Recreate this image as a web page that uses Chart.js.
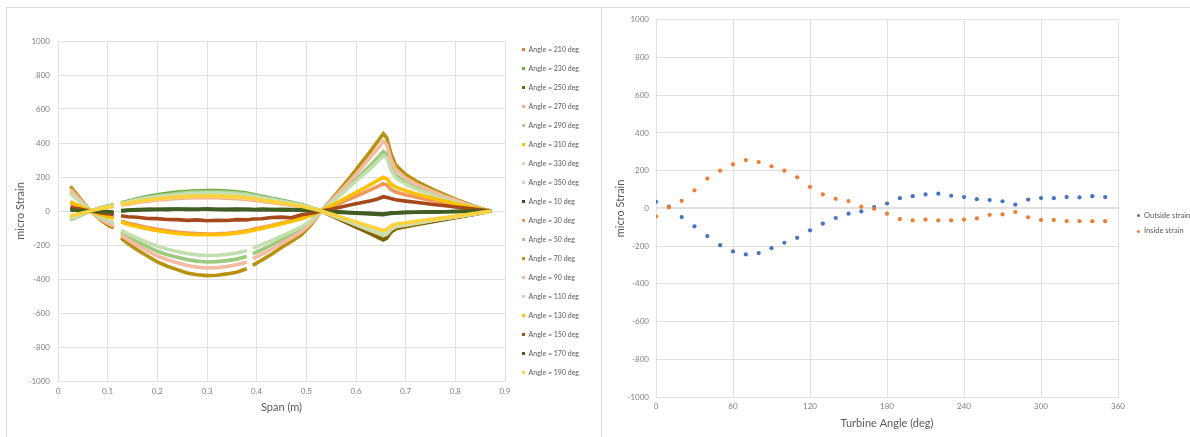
<!DOCTYPE html>
<html>
<head>
<meta charset="utf-8">
<title>Blade strain</title>
<style>
  html, body { margin: 0; padding: 0; background: #fff; width: 1190px; height: 437px; overflow: hidden; font-family: Lato, "Open Sans", sans-serif; }
  .panel { position: absolute; border: 1px solid #d9d9d9; background: #fff; box-sizing: border-box; }
  canvas { position: absolute; }
  .legend-item { position: absolute; white-space: nowrap; color: #595959; font-family: Lato, sans-serif; }
  .legend-mark { position: absolute; width: 3px; height: 3px; }
</style>
<script src="https://cdn.jsdelivr.net/npm/chart.js@4.4.0/dist/chart.umd.min.js"></script>
</head>
<body>
<div class="panel" style="left:6px; top:7px; width:600px; height:440px; border-right:none;"></div>
<div class="panel" style="left:601px; top:7px; width:600px; height:440px;"></div>
<canvas id="spanChart" width="590" height="428" style="left:7px; top:8px;"></canvas>
<canvas id="angleChart" width="587" height="428" style="left:603px; top:8px;"></canvas>
<div id="spanLegend"></div>
<div id="angleLegend"></div>
<script>
// ---- Strain along the blade span, one series per rotor angle ----
const SPAN = [0.025, 0.035, 0.045, 0.055, 0.065, 0.075, 0.085, 0.095, 0.105, 0.112, 0.118,
  0.127, 0.14, 0.16, 0.18, 0.20, 0.22, 0.24, 0.26, 0.28, 0.30, 0.32, 0.34, 0.36, 0.38, 0.386,
  0.392, 0.41, 0.43, 0.45, 0.47, 0.49, 0.51, 0.53, 0.55, 0.57, 0.59, 0.61, 0.63, 0.645, 0.655, 0.662,
  0.67, 0.68, 0.70, 0.72, 0.74, 0.76, 0.78, 0.80, 0.82, 0.84, 0.86, 0.872];

const ROTOR_ANGLES = [210, 230, 250, 270, 290, 310, 330, 350, 10, 30, 50, 70, 90, 110, 130, 150, 170, 190];

const STRAIN_210 = [-40, -30, -20, -10, 0, 7, 14, 21, 27, 32, null,
  40, 47, 58, 68, 76, 83, 88, 92, 95, 95, 94, 92, 88, 82, 79,
  77, 68, 60, 50, 40, 30, 15, 0, -24, -48, -72, -96, -120, -138, -150, -142,
  -112, -95, -84, -74, -64, -54, -45, -36, -27, -17, -7, 0];
const STRAIN_230 = [-50, -37, -25, -12, 0, 9, 18, 26, 33, 38, null,
  48, 57, 72, 85, 95, 104, 111, 116, 119, 121, 120, 118, 113, 106, 102,
  99, 86, 75, 63, 51, 38, 20, 0, -26, -52, -77, -102, -127, -147, -160, -150,
  -118, -100, -89, -79, -68, -58, -48, -38, -28, -18, -7, 0];
const STRAIN_250 = [-45, -34, -22, -11, 0, 8, 16, 23, 29, 34, null,
  42, 50, 62, 72, 80, 87, 93, 97, 100, 100, 99, 97, 94, 88, 85,
  82, 72, 63, 53, 43, 32, 16, 0, -27, -54, -81, -108, -135, -157, -170, -160,
  -125, -104, -92, -81, -70, -60, -50, -40, -30, -19, -8, 0];
const STRAIN_270 = [-35, -26, -17, -9, 0, 6, 12, 18, 23, 27, null,
  35, 40, 50, 58, 65, 70, 74, 77, 78, 79, 78, 76, 73, 68, 66,
  64, 57, 50, 42, 34, 25, 13, 0, -23, -46, -70, -93, -116, -133, -145, -137,
  -110, -93, -83, -73, -63, -53, -44, -35, -26, -16, -6, 0];
const STRAIN_290 = [-48, -36, -24, -12, 0, 8, 17, 25, 31, 36, null,
  45, 54, 67, 79, 88, 96, 103, 108, 111, 112, 112, 110, 106, 100, 96,
  93, 81, 71, 59, 48, 36, 18, 0, -22, -45, -67, -90, -112, -129, -140, -132,
  -106, -90, -80, -71, -61, -52, -43, -34, -25, -16, -6, 0];
const STRAIN_310 = [-35, -26, -17, -9, 0, 7, 14, 20, 26, 31, null,
  42, 49, 60, 70, 78, 84, 89, 93, 95, 95, 95, 93, 89, 84, 81,
  78, 69, 61, 51, 41, 30, 15, 0, -20, -40, -60, -80, -100, -115, -125, -118,
  -96, -83, -75, -67, -58, -50, -41, -33, -24, -15, -6, 0];
const STRAIN_330 = [-30, -22, -15, -7, 0, 6, 12, 18, 23, 27, null,
  37, 44, 54, 63, 70, 76, 80, 83, 85, 86, 85, 83, 80, 75, 72,
  70, 62, 54, 46, 37, 27, 14, 0, -22, -43, -65, -86, -108, -124, -135, -128,
  -103, -88, -79, -70, -60, -51, -42, -34, -25, -16, -6, 0];
const STRAIN_350 = [-45, -34, -22, -11, 0, 8, 16, 23, 29, 34, null,
  44, 52, 64, 75, 83, 90, 96, 101, 104, 105, 105, 103, 99, 93, 90,
  87, 77, 67, 56, 45, 34, 17, 0, -22, -45, -67, -90, -112, -129, -140, -132,
  -106, -90, -80, -71, -61, -52, -43, -34, -25, -16, -6, 0];
const STRAIN_10 = [15, 11, 8, 4, 0, -3, -6, -9, -10, -12, null,
  0, 3, 6, 8, 10, 8, 12, 9, 10, 11, 9, 10, 8, 10, 9,
  8, 7, 9, 6, 6, 5, 3, 0, -3, -6, -9, -12, -14, -16, -18, -15,
  -12, -10, -8, -7, -6, -5, -4, -3, -2, -1, 0, 0];
const STRAIN_30 = [45, 34, 22, 11, 0, -9, -18, -26, -33, -38, null,
  -58, -70, -84, -97, -108, -117, -124, -129, -133, -135, -134, -131, -125, -117, -113,
  -108, -97, -85, -71, -57, -43, -24, 0, 25, 50, 75, 100, 126, 147, 160, 153,
  128, 112, 96, 82, 69, 57, 45, 34, 24, 14, 5, 0];
const STRAIN_50 = [110, 82, 55, 27, 2, -19, -38, -55, -68, -76, null,
  -125, -150, -182, -210, -237, -257, -272, -286, -295, -300, -298, -292, -283, -268, null,
  -252, -228, -200, -170, -140, -108, -62, 0, 50, 105, 160, 215, 272, 318, 350, 335,
  262, 210, 168, 138, 115, 93, 73, 54, 36, 20, 6, 0];
const STRAIN_70 = [145, 108, 72, 36, 2, -25, -50, -72, -90, -100, null,
  -160, -190, -230, -265, -300, -325, -345, -365, -375, -380, -378, -370, -360, -340, null,
  -320, -290, -255, -215, -180, -140, -80, 0, 65, 135, 205, 280, 355, 415, 455, 430,
  340, 270, 215, 178, 148, 120, 95, 70, 47, 26, 8, 0];
const STRAIN_90 = [128, 95, 63, 32, 2, -22, -44, -63, -79, -88, null,
  -140, -168, -203, -235, -265, -287, -305, -320, -330, -335, -333, -326, -316, -300, null,
  -282, -255, -225, -190, -158, -122, -70, 0, 58, 120, 183, 250, 320, 372, 410, 390,
  305, 243, 193, 160, 133, 108, 85, 63, 42, 23, 7, 0];
const STRAIN_110 = [100, 75, 50, 25, 2, -17, -34, -49, -61, -68, null,
  -112, -133, -160, -185, -207, -225, -238, -250, -258, -262, -260, -255, -247, -234, null,
  -220, -198, -175, -148, -122, -94, -54, 0, 47, 98, 150, 200, 252, 295, 325, 312,
  245, 196, 158, 130, 108, 87, 68, 50, 34, 19, 6, 0];
const STRAIN_130 = [55, 41, 27, 14, 1, -11, -21, -30, -37, -42, null,
  -65, -78, -92, -105, -116, -125, -132, -137, -140, -140, -139, -136, -130, -122, -118,
  -114, -103, -90, -76, -60, -45, -26, 0, 30, 62, 93, 125, 157, 182, 198, 190,
  160, 140, 120, 102, 86, 71, 57, 43, 30, 17, 6, 0];
const STRAIN_150 = [22, 16, 11, 5, 0, -5, -10, -14, -18, -20, null,
  -28, -34, -37, -44, -45, -50, -51, -55, -52, -57, -54, -56, -51, -52, -50,
  -47, -46, -38, -36, -40, -22, -13, 0, 10, 24, 37, 48, 60, 72, 84, 80,
  73, 66, 58, 51, 44, 37, 31, 24, 17, 10, 4, 0];
const STRAIN_170 = [5, 4, 2, 1, 0, 0, -2, -3, -5, -6, null,
  2, 5, 8, 10, 9, 12, 10, 11, 9, 12, 10, 8, 11, 9, 10,
  9, 11, 8, 10, 9, 7, 4, 0, -4, -8, -12, -15, -18, -20, -22, -18,
  -14, -11, -9, -7, -6, -5, -4, -3, -2, -1, 0, 0];
const STRAIN_190 = [-30, -22, -15, -7, 0, 7, 13, 19, 25, 30, null,
  40, 46, 56, 65, 72, 78, 83, 86, 88, 88, 88, 86, 83, 78, 75,
  73, 64, 56, 47, 38, 28, 14, 0, -18, -37, -55, -74, -92, -106, -115, -108,
  -88, -76, -69, -61, -53, -46, -38, -30, -22, -14, -5, 0];

// ---- Gauge readings over one revolution ----
const TURBINE_ANGLE = [0, 10, 20, 30, 40, 50, 60, 70, 80, 90, 100, 110, 120, 130, 140, 150, 160, 170,
  180, 190, 200, 210, 220, 230, 240, 250, 260, 270, 280, 290, 300, 310, 320, 330, 340, 350];
const OUTSIDE_STRAIN = [35, 9, -46, -95, -147, -195, -228, -244, -237, -211, -182, -156, -116, -81, -51, -28, -16, 7,
  26, 54, 65, 74, 78, 67, 60, 49, 44, 38, 20, 47, 55, 54, 60, 58, 65, 60];
const INSIDE_STRAIN = [-42, 5, 40, 96, 158, 200, 233, 256, 246, 223, 200, 165, 114, 74, 51, 39, 9, -2,
  -28, -57, -63, -59, -63, -63, -59, -53, -34, -32, -19, -47, -61, -61, -67, -68, -68, -68];

const Y_TICKS = { min: -1000, max: 1000, step: 200 };

// ---- Styling ----
const SERIES_COLORS = ['#ED7D31', '#70AD47', '#7F6000', '#F4B183', '#A9D18E', '#FFC000', '#F8CBAD', '#C5E0B4',
  '#3D4A22', '#F1975A', '#9CCB7E', '#B8920E', '#F4BAA2', '#C3DFAE', '#FFC000', '#A5481A', '#3F5F22', '#FFD23F'];
const SERIES_VALUES = [STRAIN_210, STRAIN_230, STRAIN_250, STRAIN_270, STRAIN_290, STRAIN_310, STRAIN_330, STRAIN_350,
  STRAIN_10, STRAIN_30, STRAIN_50, STRAIN_70, STRAIN_90, STRAIN_110, STRAIN_130, STRAIN_150, STRAIN_170, STRAIN_190];

const GRID = '#e0e0e0';
const TICK_COLOR = '#7f7f7f';
const TITLE_COLOR = '#595959';

Chart.defaults.font.family = 'Lato, "Open Sans", sans-serif';

const yTickLabel = v => String(v);

function strainAxis(width, pad, zeroWidth) {
  return {
    type: 'linear',
    min: Y_TICKS.min,
    max: Y_TICKS.max,
    afterFit(scale) { scale.width = width; },
    ticks: { stepSize: Y_TICKS.step, padding: pad, color: TICK_COLOR, font: { size: 8 }, callback: yTickLabel },
    grid: {
      color: GRID,
      lineWidth: ctx => (ctx.tick && ctx.tick.value === 0) ? zeroWidth : 1,
      drawTicks: false
    },
    border: { color: GRID },
    title: { display: true, text: 'micro Strain', color: TITLE_COLOR, font: { size: 11 }, padding: { top: 4, bottom: 4 } }
  };
}

// Left: strain along the span
const total = ROTOR_ANGLES.length;
const spanDatasets = ROTOR_ANGLES.map((angle, i) => ({
  label: 'Angle = ' + angle + ' deg',
  data: SPAN.map((x, k) => ({ x: x, y: SERIES_VALUES[i][k] })),
  showLine: true,
  spanGaps: false,
  borderColor: SERIES_COLORS[i],
  backgroundColor: SERIES_COLORS[i],
  borderWidth: 3.6,
  pointRadius: 0,
  order: total - 1 - i
}));

new Chart(document.getElementById('spanChart'), {
  type: 'scatter',
  data: { datasets: spanDatasets },
  options: {
    responsive: false,
    animation: false,
    devicePixelRatio: 1,
    layout: { padding: { left: 2.4, top: 33, right: 92, bottom: 18.4 } },
    plugins: { legend: { display: false }, tooltip: { enabled: false } },
    scales: {
      x: {
        type: 'linear', min: 0, max: 0.9,
        afterFit(scale) { scale.height = 36.6; },
        ticks: { stepSize: 0.1, padding: 6, color: TICK_COLOR, font: { size: 8 },
          callback: v => (Math.abs(v) < 1e-9 ? '0' : String(+v.toFixed(1))) },
        grid: { color: GRID, drawTicks: false },
        border: { color: GRID },
        title: { display: true, text: 'Span (m)', color: TITLE_COLOR, font: { size: 11 }, padding: { top: 4, bottom: 4 } }
      },
      y: strainAxis(48.6, 8, 1)
    }
  }
});

// Right: gauge strain against rotor angle
new Chart(document.getElementById('angleChart'), {
  type: 'scatter',
  data: {
    datasets: [
      { label: 'Outside strain', data: TURBINE_ANGLE.map((a, k) => ({ x: a, y: OUTSIDE_STRAIN[k] })),
        backgroundColor: '#4472C4', borderColor: '#4472C4', borderWidth: 0, pointRadius: 2.1, order: 1 },
      { label: 'Inside strain', data: TURBINE_ANGLE.map((a, k) => ({ x: a, y: INSIDE_STRAIN[k] })),
        backgroundColor: '#ED7D31', borderColor: '#ED7D31', borderWidth: 0, pointRadius: 2.1, order: 0 }
    ]
  },
  options: {
    responsive: false,
    animation: false,
    devicePixelRatio: 1,
    layout: { padding: { left: 6.4, top: 9, right: 72, bottom: 2.4 } },
    plugins: { legend: { display: false }, tooltip: { enabled: false } },
    scales: {
      x: {
        type: 'linear', min: 0, max: 360,
        afterFit(scale) { scale.height = 36.6; },
        ticks: { stepSize: 60, padding: 5, color: TICK_COLOR, font: { size: 8 } },
        grid: { color: GRID, drawTicks: false },
        border: { color: GRID },
        title: { display: true, text: 'Turbine Angle (deg)', color: TITLE_COLOR, font: { size: 11 }, padding: { top: 4, bottom: 4 } }
      },
      y: strainAxis(46.6, 7, 2)
    }
  }
});

// Legends
function addLegend(hostId, entries, markX, textX, firstY, stepY, fontSize) {
  const host = document.getElementById(hostId);
  entries.forEach((e, k) => {
    const cy = firstY + k * stepY;
    const m = document.createElement('div');
    m.className = 'legend-mark';
    m.style.left = (markX - 1.5) + 'px';
    m.style.top = (cy - 1.5) + 'px';
    m.style.background = e.color;
    if (e.round) m.style.borderRadius = '50%';
    host.appendChild(m);
    const t = document.createElement('div');
    t.className = 'legend-item';
    t.style.left = textX + 'px';
    t.style.top = (cy - 6) + 'px';
    t.style.height = '12px';
    t.style.lineHeight = '12px';
    t.style.fontSize = fontSize + 'px';
    t.textContent = e.text;
    host.appendChild(t);
  });
}

addLegend('spanLegend', ROTOR_ANGLES.map((a, i) => ({ text: 'Angle = ' + a + ' deg', color: SERIES_COLORS[i] })),
  523.5, 528.5, 49.3, 19, 7);
addLegend('angleLegend', [
  { text: 'Outside strain', color: '#4472C4', round: true },
  { text: 'Inside strain', color: '#ED7D31', round: true }
], 1138.5, 1144, 215.5, 15.5, 7.5);
</script>
</body>
</html>
